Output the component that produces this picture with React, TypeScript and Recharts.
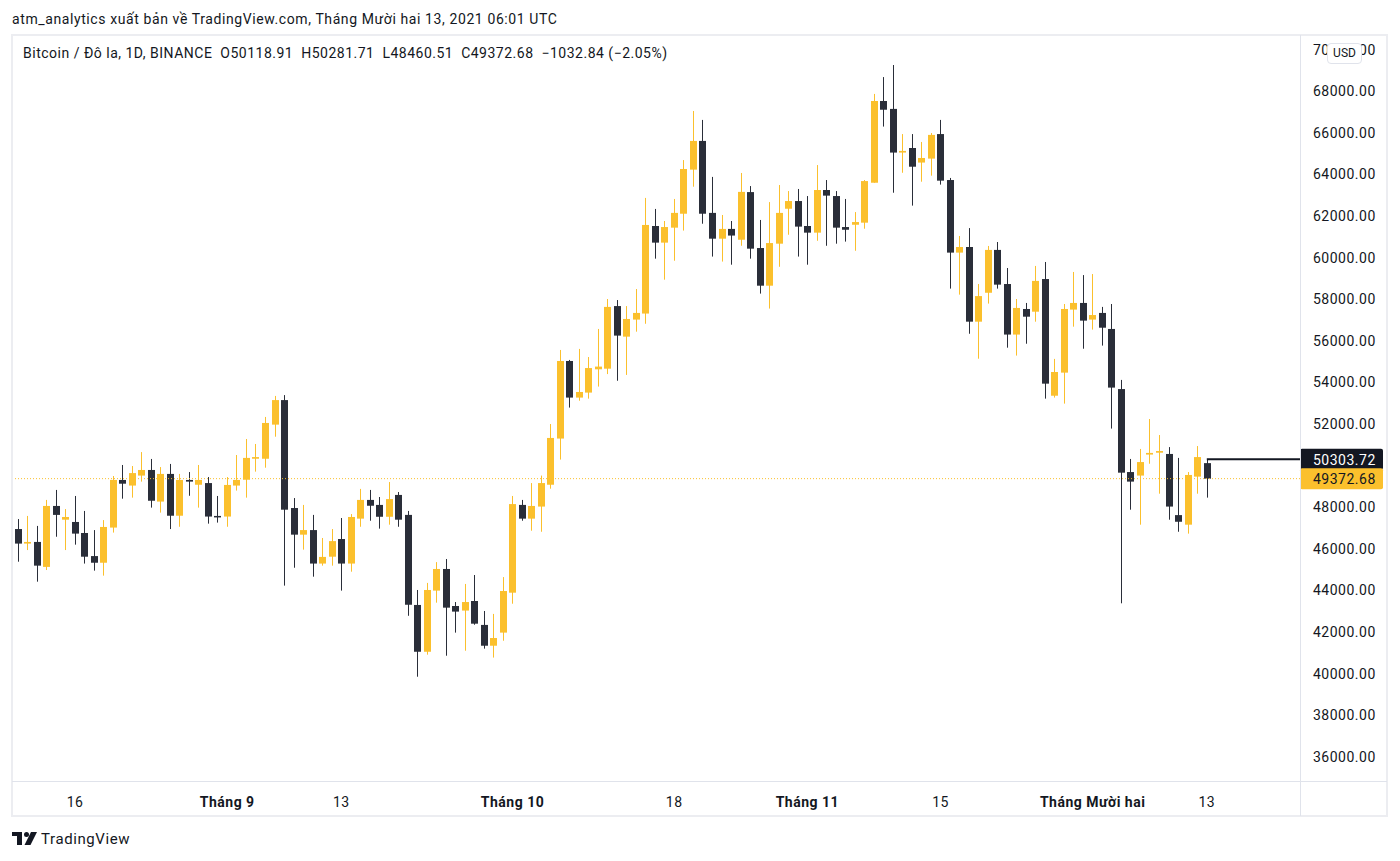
import { ComposedChart, Bar, XAxis, YAxis, ReferenceLine } from 'recharts';

// BTC / USD daily candles on BINANCE, 2021-08-10 .. 2021-12-13 (last one still open)
const START_DATE = Date.UTC(2021, 7, 10);

const opens = [
  46950, 46250, 46330, 45130, 48060, 47400, 47290, 46760, 45650, 45330,
  47020, 49310, 49040, 49520, 49790, 48270, 49600, 47590, 49310, 49080,
  49160, 47580, 47550, 49040, 49320, 50330, 50330, 51970, 53150, 47960,
  46680, 46900, 45290, 45620, 46470, 45290, 47450, 48350, 48110, 47540,
  48590, 47630, 43300, 41050, 43990, 45030, 43250, 43030, 43490, 42340,
  41340, 41970, 43890, 48110, 47450, 48030, 49080, 51300, 55030, 53270,
  53510, 54630, 54660, 57670, 56200, 57020, 57310, 61520, 60720, 61440,
  62110, 64230, 65610, 62150, 60910, 61380, 60860, 63150, 60460, 58650,
  60670, 62350, 62720, 61520, 61200, 63250, 62960, 61470, 61580, 61680,
  63600, 67530, 67150, 65050, 65270, 64570, 64760, 65940, 63730, 60240,
  60510, 56920, 58310, 60370, 58730, 56300, 57530, 57400, 58970, 53360,
  54470, 57500, 57820, 57020, 57340, 56570, 53680, 49690, 49520, 50530,
  50620, 50560, 47620, 47160, 49470, 50118.91,
];
const highs = [
  47430, 47580, 47100, 48350, 48830, 47910, 48540, 47820, 46900, 47380,
  49500, 50030, 49980, 50650, 50320, 49930, 50080, 49600, 49690, 50030,
  49450, 48540, 49450, 50510, 51280, 51040, 52340, 53350, 53390, 48440,
  48110, 47630, 46520, 46950, 47480, 47670, 48880, 48830, 48490, 49210,
  48730, 47820, 44020, 44360, 45360, 45510, 43440, 44310, 44740, 43010,
  42870, 44640, 48540, 48350, 49160, 49520, 52000, 55560, 55080, 55610,
  55220, 56570, 58010, 57960, 57670, 58490, 62870, 62340, 61760, 62820,
  64690, 67050, 66620, 63880, 62050, 61760, 64070, 63440, 61810, 62670,
  63490, 63200, 63300, 62960, 64450, 63730, 63200, 62820, 62190, 63730,
  67870, 68680, 69260, 65940, 65940, 65560, 65990, 66620, 63830, 61040,
  61420, 58730, 60560, 60750, 59500, 58010, 57820, 59600, 59790, 55130,
  57770, 59310, 59160, 59210, 57630, 57770, 54120, 50320, 50800, 52240,
  51470, 50890, 50370, 49690, 50940, 50281.71,
];
const lows = [
  45380, 45940, 44420, 44980, 46580, 45940, 46200, 45290, 44950, 44710,
  46780, 48410, 48460, 49230, 47980, 47740, 46950, 47060, 48550, 47980,
  47210, 47260, 47060, 48800, 48460, 49710, 49900, 51390, 44230, 45090,
  45960, 44660, 45190, 45190, 43990, 44900, 47060, 47350, 46970, 47160,
  47060, 42780, 39850, 40910, 43410, 40860, 41970, 41100, 42350, 41200,
  40770, 41580, 43360, 47350, 46870, 46820, 48890, 50290, 52790, 53120,
  53220, 53800, 54400, 54080, 54360, 56440, 56820, 59950, 58940, 59850,
  61300, 63410, 61630, 60050, 59810, 59660, 60570, 59950, 58270, 57550,
  59560, 61100, 60050, 59660, 60810, 60570, 60670, 60770, 60330, 61390,
  63600, 66300, 63120, 64080, 62500, 63650, 63940, 63510, 58510, 58220,
  56340, 55140, 57790, 58510, 55670, 55290, 55860, 56920, 53220, 53270,
  52980, 56680, 55620, 56540, 55770, 51780, 43380, 47880, 47160, 50090,
  48650, 47400, 46820, 46730, 48650, 48460.51,
];
const closes = [
  46250, 46330, 45190, 48060, 47630, 47530, 46730, 45620, 45330, 47050,
  49310, 49130, 49640, 49790, 48310, 49600, 47590, 49310, 49230, 49310,
  47550, 47550, 49070, 49310, 50370, 50410, 52050, 53150, 47880, 46680,
  46900, 45290, 45610, 46370, 45290, 47530, 48350, 48070, 47540, 48390,
  47400, 43310, 41050, 44020, 45030, 43170, 42980, 43440, 42400, 41340,
  41710, 43970, 48150, 47450, 48060, 49160, 51330, 55030, 53270, 53540,
  54690, 54760, 57630, 56250, 57050, 57340, 61570, 60720, 61470, 62150,
  64260, 65610, 62110, 60910, 61380, 61060, 63160, 60430, 58650, 60700,
  62150, 62720, 61490, 61200, 63250, 62980, 61440, 61340, 61710, 63680,
  67530, 67110, 65050, 65130, 64370, 64790, 65900, 63700, 60240, 60510,
  56920, 58150, 60370, 58700, 56300, 57580, 57160, 58880, 53940, 54500,
  57530, 57820, 56970, 57240, 56630, 53750, 49660, 49230, 50170, 50610,
  50700, 48030, 47300, 49550, 50410, 49372.68,
];

const lastPrice = 49372.68;
const markedPrice = 50303.72;

const priceTicks = [
  36000, 38000, 40000, 42000, 44000, 46000, 48000,
  52000, 54000, 56000, 58000, 60000, 62000, 64000, 66000, 68000, 70000,
];

const tickDates = [
  '2021-08-16', '2021-09-01', '2021-09-13', '2021-10-01', '2021-10-18',
  '2021-11-01', '2021-11-15', '2021-12-01', '2021-12-13',
];
const tickLabels = ['16', 'Tháng 9', '13', 'Tháng 10', '18', 'Tháng 11', '15', 'Tháng Mười hai', '13'];

const UP = '#FBC02D';
const DOWN = '#2A2E39';
const TEXT = '#131722';
const BORDER = '#E0E3EB';
const FONT = 'Roboto, "Noto Sans", sans-serif';
const SPACING = 0.5;

const dayOf = (iso: string) => Math.round((Date.parse(iso + 'T00:00:00Z') - START_DATE) / 86400000);
const tickDays = tickDates.map(dayOf);

const candles = opens.map((open, i) => ({
  day: i,
  open,
  high: highs[i],
  low: lows[i],
  close: closes[i],
  range: [lows[i], highs[i]],
}));

function Candle(props: any) {
  const { x, y, width, height, payload } = props;
  if (!payload || height == null) return null;
  const { open, close, high, low } = payload;
  const top = Math.min(y, y + height);
  const span = Math.abs(height);
  const toY = (v: number) => top + ((high - v) / (high - low)) * span;
  const cx = Math.round(x + width / 2);
  const color = close >= open ? UP : DOWN;
  const bodyTop = toY(Math.max(open, close));
  const bodyH = Math.max(toY(Math.min(open, close)) - bodyTop, 1.5);
  return (
    <g>
      <rect x={cx} y={top} width={1} height={span} fill={color} />
      <rect x={cx - 3} y={bodyTop} width={7} height={bodyH} fill={color} />
    </g>
  );
}

function TimeTick({ x, y, payload }: any) {
  const label = tickLabels[tickDays.indexOf(payload.value)] ?? '';
  const isMonth = label.startsWith('Tháng');
  return (
    <text
      x={x}
      y={y + 19}
      textAnchor="middle"
      dominantBaseline="central"
      fontSize={14}
      letterSpacing={SPACING}
      fontWeight={isMonth ? 700 : 400}
      fill={TEXT}
      fontFamily={FONT}
    >
      {label}
    </text>
  );
}

function PriceTick({ x, y, payload }: any) {
  return (
    <text
      x={x}
      y={y}
      dominantBaseline="central"
      fontSize={14}
      letterSpacing={SPACING}
      fill={TEXT}
      fontFamily={FONT}
    >
      {payload.value.toFixed(2)}
    </text>
  );
}

function priceTag(props: any, text: string, bg: string, fg: string) {
  const { viewBox } = props;
  if (!viewBox) return null;
  const right = viewBox.x + viewBox.width;
  const cy = viewBox.y;
  return (
    <g>
      <rect x={right} y={cy - 10.5} width={83} height={21} fill={bg} rx={2} />
      <text
        x={right + 13}
        y={cy + 0.5}
        dominantBaseline="central"
        fontSize={14}
        letterSpacing={SPACING}
        fill={fg}
        fontFamily={FONT}
      >
        {text}
      </text>
    </g>
  );
}

function Line({ left, top, width, height, color = BORDER }: any) {
  return <div style={{ position: 'absolute', left, top, width, height, background: color }} />;
}

function TvLogo() {
  return (
    <svg width={26} height={14} viewBox="0 0 26 14" style={{ display: 'block' }}>
      <rect x={0} y={0} width={10} height={4} fill={TEXT} />
      <rect x={5} y={0} width={5} height={13} fill={TEXT} />
      <circle cx={14.5} cy={2.5} r={2.5} fill={TEXT} />
      <polygon points="19,0 25,0 18.5,13 12.5,13" fill={TEXT} />
    </svg>
  );
}

export default function App() {
  return (
    <div
      style={{
        position: 'relative',
        width: 1400,
        height: 861,
        background: '#fff',
        fontFamily: FONT,
        color: TEXT,
        letterSpacing: SPACING,
      }}
    >
      <style>{'body{margin:0}'}</style>

      <div style={{ position: 'absolute', left: 12, top: 9, fontSize: 14, lineHeight: '20px', whiteSpace: 'nowrap', letterSpacing: 0.6 }}>
        atm_analytics xuất bản về TradingView.com, Tháng Mười hai 13, 2021 06:01 UTC
      </div>

      <div style={{ position: 'absolute', left: 12, top: 35 }}>
        <ComposedChart width={1375} height={781} data={candles} margin={{ top: 0, right: 0, bottom: 0, left: 0 }}>
          <XAxis
            dataKey="day"
            type="number"
            domain={[-0.63, 134.8]}
            allowDataOverflow
            ticks={tickDays}
            interval={0}
            height={35}
            axisLine={false}
            tickLine={false}
            tickSize={0}
            tick={<TimeTick />}
          />
          <YAxis
            orientation="right"
            type="number"
            domain={[34836, 70703]}
            allowDataOverflow
            ticks={priceTicks}
            interval={0}
            width={87}
            axisLine={false}
            tickLine={false}
            tickSize={0}
            tickMargin={13}
            tick={<PriceTick />}
          />
          <ReferenceLine y={lastPrice} stroke={UP} strokeWidth={1} strokeDasharray="1 2" />
          <Bar dataKey="range" barSize={7} shape={<Candle />} isAnimationActive={false} />
          <ReferenceLine
            segment={[
              { x: 125, y: markedPrice },
              { x: 134.8, y: markedPrice },
            ]}
            stroke={TEXT}
            strokeWidth={2}
          />
          <ReferenceLine
            y={markedPrice}
            stroke="none"
            label={(p: any) => priceTag(p, markedPrice.toFixed(2), TEXT, '#fff')}
          />
          <ReferenceLine
            y={lastPrice}
            stroke="none"
            label={(p: any) => priceTag(p, lastPrice.toFixed(2), UP, TEXT)}
          />
        </ComposedChart>
      </div>

      {/* pane frame and separators */}
      <Line left={12} top={34} width={1376} height={2} color="#ECEDF1" />
      <Line left={11} top={34} width={2} height={783} color="#ECEDF1" />
      <Line left={1386} top={34} width={2} height={783} color="#ECEDF1" />
      <Line left={11} top={815} width={1377} height={2} color="#ECEDF1" />
      <Line left={1300} top={35} width={1} height={781} />
      <Line left={12} top={781} width={1375} height={1} />

      <div
        style={{
          position: 'absolute',
          left: 23,
          top: 43,
          fontSize: 14,
          lineHeight: '20px',
          whiteSpace: 'pre',
        }}
      >
        {'Bitcoin / Đô la, 1D, BINANCE  O50118.91  H50281.71  L48460.51  C49372.68  −1032.84 (−2.05%)'}
      </div>

      <div
        style={{
          position: 'absolute',
          left: 1327,
          top: 43,
          width: 35,
          height: 21,
          boxSizing: 'border-box',
          border: `1px solid ${BORDER}`,
          borderRadius: 4,
          background: '#fff',
          fontSize: 12,
          lineHeight: '19px',
          letterSpacing: 0,
          textAlign: 'center',
        }}
      >
        USD
      </div>

      <div style={{ position: 'absolute', left: 12, top: 831, display: 'flex', alignItems: 'center', gap: 3 }}>
        <TvLogo />
        <span style={{ fontSize: 15, lineHeight: '16px', letterSpacing: 0.6 }}>TradingView</span>
      </div>
    </div>
  );
}
